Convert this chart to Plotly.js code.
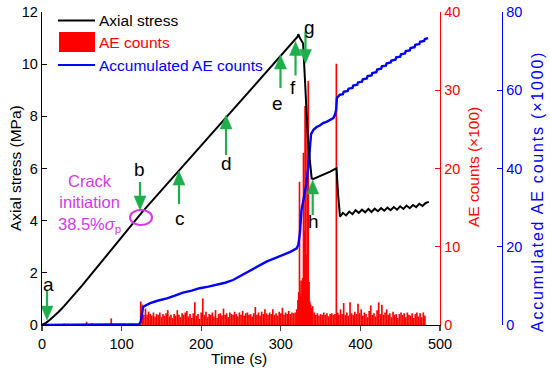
<!DOCTYPE html>
<html>
<head>
<meta charset="utf-8">
<script src="https://cdn.plot.ly/plotly-3.0.1.min.js"></script>
<style>html,body{margin:0;padding:0;background:#fff;}#chart{width:550px;height:368px;}</style>
</head>
<body>
<div id="chart"></div>
<script>
// ---- Data ----
// Axial stress (MPa) vs time (s)
const stressTime = [0,5,10,15,20,25,30,40,50,60,70,80,90,100,110,120,125,150,175,200,225,250,275,300,315,321,322,324,328,330,331.6,334,336.7,338.8,341,345,349,353,358,362,366,370,372,374.4,378,382,386,390,394,398,402,406,410,414,418,422,426,430,434,438,442,446,450,454,458,462,466,470,474,478,482,486];
const stress = [0,0.08,0.2,0.33,0.48,0.63,0.8,1.15,1.5,1.87,2.25,2.63,3.0,3.38,3.75,4.12,4.3,5.16,6.02,6.88,7.74,8.6,9.46,10.32,10.84,11.05,11.15,11.0,10.8,9.6,8.24,7.2,6.26,5.62,5.6,5.65,5.69,5.75,5.8,5.88,5.95,6.01,5.0,4.15,4.3,4.2,4.35,4.25,4.4,4.3,4.42,4.32,4.45,4.33,4.46,4.36,4.48,4.38,4.5,4.4,4.52,4.42,4.55,4.45,4.58,4.48,4.6,4.52,4.65,4.56,4.68,4.72];

// AE counts (x100) vs time (s)
const aeTime = [28,33,56,63,87,103,113,118,124,126,128,130,132,134,136,138,140,142,144,146,148,150,152,154,156,158,160,162,164,166,168,170,172,174,176,178,180,182,184,186,188,190,192,194,196,198,200,202,204,206,208,210,212,214,216,218,220,222,224,226,228,230,232,234,236,238,240,242,244,246,248,250,252,254,256,258,260,262,264,266,268,270,272,274,276,278,280,282,284,286,288,290,292,294,296,298,300,302,304,306,308,310,312,314,316,318,320,321.5,322.5,323.5,324.5,325.5,326.5,327.5,328.5,329.5,330.5,331.5,332.5,333.5,334.5,335.5,336.5,337.5,338.5,340,342,344,346,348,350,352,354,356,358,360,362,364,366,368,369.8,371.5,373,375,377,379,381,383,385,387,389,391,393,395,397,399,401,403,405,407,409,411,413,415,417,419,421,423,425,427,429,431,433,435,437,439,441,443,445,447,449,451,453,455,457,459,461,463,465,467,469,471,473,475,477,479,481];
const aeCounts = [0.2,0.15,0.4,0.25,0.85,0.15,0.2,0.1,
  3.0,2.6,1.3,2.1,1.3,1.7,1.4,1.2,1.6,1.1,1.4,1.3,1.6,1.0,1.4,1.2,1.5,1.9,1.1,1.3,0.9,1.4,1.2,1.9,1.3,1.0,1.5,1.3,1.6,1.8,1.1,1.4,0.9,1.5,2.9,1.2,1.4,0.8,1.6,3.4,1.3,1.7,1.0,1.4,1.3,1.6,1.1,1.9,0.9,1.4,1.5,1.2,2.1,1.3,1.5,1.0,1.6,1.4,1.3,1.7,1.4,1.1,1.6,1.3,1.8,1.2,1.5,1.6,1.3,1.4,1.1,1.5,2.3,1.3,1.6,1.2,1.7,1.4,2.0,1.5,1.3,1.6,1.4,2.0,1.3,1.5,1.2,1.7,1.5,2.2,1.3,1.6,1.4,1.8,1.4,1.6,1.5,1.6,2.0,
  3.2,4.2,18.3,4.0,5.7,3.5,6.0,22.0,12.0,28.0,27.0,9.0,25.0,31.2,5.5,3.0,2.6,2.2,
  2.4,1.6,1.3,1.5,1.2,1.4,1.3,1.6,1.3,1.5,1.1,1.4,1.5,1.3,1.4,33.4,1.6,1.3,2.0,1.4,2.8,1.3,1.6,1.2,2.9,1.5,1.3,1.7,1.4,2.7,1.5,2.0,1.2,1.6,1.4,1.0,1.8,2.5,1.3,1.5,1.1,1.9,2.9,1.4,2.6,1.3,1.6,2.0,1.3,1.5,1.0,1.7,1.3,1.4,0.9,1.4,1.6,1.3,1.5,1.0,1.6,1.3,1.2,1.5,0.9,1.4,1.6,1.1,1.5,1.0,1.6,1.2];

// Accumulated AE counts (x1000) vs time (s)
const accTime = [0,60,100,122,124,125.5,127,130,136,145,157,167,177,188,198,209,219,230,240,250,261,272,282,292,303,312,320,322,324,326,328,330,332,334.6,336.7,338,341,345,349,353,358,362,366,368,369.5,370.5,374,378,379,384,385,390,391,396,397,402,403,408,409,414,415,420,421,426,427,432,433,438,439,444,445,450,451,456,457,462,463,468,469,474,475,480,481,485];
const accCounts = [0,0.05,0.1,0.2,0.8,3.5,4.6,5.0,5.6,6.2,6.8,7.5,8.3,8.8,9.4,9.8,10.2,10.8,11.5,12.6,14.0,15.2,16.2,17.0,17.9,18.7,19.6,20.5,23.5,29.4,31.5,33.7,36.0,40.5,47.3,48.8,49.9,50.6,51.0,51.6,52.0,52.4,52.9,53.7,55.0,58.0,58.8,59.0,59.6,59.8,60.4,60.6,61.2,61.4,62.0,62.2,62.8,63.0,63.6,63.8,64.4,64.6,65.3,65.5,66.1,66.3,66.9,67.1,67.6,67.8,68.4,68.6,69.2,69.4,70.0,70.2,70.8,71.0,71.6,71.8,72.4,72.6,73.1,73.3];

// Axis ticks
const timeTicks = [0,100,200,300,400,500];
const stressTicks = [0,2,4,6,8,10,12];
const aeTicks = [0,10,20,30,40];
const accTicks = [0,20,40,60,80];

// Annotated stages: label, time (s) and stress (MPa) at the arrow tip
const stageLabels = ['a','b','c','d','e','f','g','h'];
const stageTime   = [6.3,123.1,172.1,231.2,299.6,318.5,331.0,340.1];
const stageStress = [0.19,4.41,5.90,8.05,10.35,10.87,10.03,5.56];
// arrow length in px (positive: arrow points down, tail above)
const arrowLen    = [29,28,-33,-40,-33,-34,32,-35];
// label offset from tip in px (screen, positive = down)
const labelOffset = [-36,-40,47,48,48,46,-36,42];
const labelDx     = [1,0,1,0,-3,-3,4,1];

const FONT = 'Liberation Sans, Arial, sans-serif';
const GREEN = '#1fae4c';
const MAGENTA = '#d23ae6';

const traces = [
  {type:'bar', x: aeTime, y: aeCounts, width: 2.1, marker:{color:'#ff0000', line:{width:0}}, xaxis:'x', yaxis:'y', showlegend:false, hoverinfo:'skip'},
  {type:'scatter', mode:'lines', x: accTime, y: accCounts, line:{color:'#0000ff', width:2.4}, xaxis:'x', yaxis:'y2', showlegend:false, cliponaxis:false},
  {type:'scatter', mode:'lines', x: stressTime, y: stress, line:{color:'#000000', width:2}, xaxis:'x', yaxis:'y3', showlegend:false, cliponaxis:false}
];

const annotations = [];
const shapes = [];
for (let i = 0; i < stageLabels.length; i++) {
  const s = arrowLen[i];
  const sg = Math.sign(s);
  const hb = sg * 14;
  shapes.push({type:'path', xref:'x', yref:'y3', xsizemode:'pixel', ysizemode:'pixel',
    xanchor: stageTime[i], yanchor: stageStress[i],
    path: 'M0,' + (sg*10) + ' L0,' + s, line:{color:GREEN, width:2.2}});
  shapes.push({type:'path', xref:'x', yref:'y3', xsizemode:'pixel', ysizemode:'pixel',
    xanchor: stageTime[i], yanchor: stageStress[i],
    path: 'M0,0 L-6,' + hb + ' L6,' + hb + ' Z', fillcolor:GREEN, line:{color:GREEN, width:0.5}});
  annotations.push({xref:'x', yref:'y3', x: stageTime[i], y: stageStress[i], text: stageLabels[i], showarrow:false,
    xanchor:'center', yanchor:'middle',
    xshift: labelDx[i], yshift: -labelOffset[i], font:{family:FONT, size:19, color:'#000'}});
}
annotations.push({xref:'paper', yref:'paper', x:(89-42)/460, y:(325-203)/313, xanchor:'center', yanchor:'middle',
  text:'Crack<br>initiation<br>38.5%<i>σ</i><sub>p</sub>',
  showarrow:false, font:{family:FONT, size:16.5, color:MAGENTA}, align:'center'});
shapes.push({type:'circle', xref:'x', yref:'y3', x0:110.6, x1:138.2, y0:3.83, y1:4.41, line:{color:MAGENTA, width:2}});

// Axis titles
annotations.push({xref:'paper', yref:'paper', x:(238.5-42)/460, y:(325-358)/313, xanchor:'center', yanchor:'middle', text:'Time (s)', showarrow:false, font:{family:FONT,size:15.5,color:'#000'}});
annotations.push({xref:'paper', yref:'paper', x:(15-42)/460, y:(325-168)/313, xanchor:'center', yanchor:'middle', text:'Axial stress (MPa)', textangle:-90, showarrow:false, font:{family:FONT,size:15.5,color:'#000'}});
annotations.push({xref:'paper', yref:'paper', x:(473-42)/460, y:(325-167)/313, xanchor:'center', yanchor:'middle', text:'AE counts (×100)', textangle:-90, showarrow:false, font:{family:FONT,size:15.5,color:'#ff0000'}});
annotations.push({xref:'paper', yref:'paper', x:(538-42)/460, y:(325-192)/313, xanchor:'center', yanchor:'middle',
  text:'<span style="letter-spacing:1.8px">Accumulated AE counts (×1000)</span>', textangle:-90, showarrow:false, font:{family:FONT,size:16,color:'#0000ff'}});

// Custom legend
const px = v => (v-42)/460, py = v => (325-v)/313;
shapes.push({type:'line', xref:'paper', yref:'paper', x0:px(58), x1:px(95), y0:py(20.5), y1:py(20.5), line:{color:'#000', width:2}});
shapes.push({type:'rect', xref:'paper', yref:'paper', x0:px(59), x1:px(95), y0:py(52), y1:py(32), fillcolor:'#ff0000', line:{width:0}});
shapes.push({type:'line', xref:'paper', yref:'paper', x0:px(58), x1:px(95), y0:py(65), y1:py(65), line:{color:'#0000ff', width:2}});
const legendNames = ['Axial stress','AE counts','Accumulated AE counts'];
const legendColors = ['#000000','#ff0000','#0000ff'];
const legendY = [20.5,42.5,65];
for (let i = 0; i < 3; i++) {
  annotations.push({xref:'paper', yref:'paper', x:px(97), y:py(legendY[i]), xanchor:'left', yanchor:'middle', text: legendNames[i], showarrow:false, font:{family:FONT,size:15.5,color:legendColors[i]}});
}

const layout = {
  width:550, height:368,
  margin:{l:42, r:48, t:12, b:43, pad:0},
  paper_bgcolor:'#fff', plot_bgcolor:'rgba(0,0,0,0)',
  font:{family:FONT, size:14.5, color:'#000'},
  showlegend:false,
  xaxis:{domain:[0, 398/460], range:[0,500], tickvals: timeTicks, ticks:'outside', ticklen:5, tickwidth:1.3,
    showline:true, linecolor:'#000', linewidth:1.3, showgrid:false, zeroline:false, anchor:'y',
    tickfont:{family:FONT,size:14.5,color:'#000'}},
  yaxis:{range:[0,40], tickvals: aeTicks, side:'right', anchor:'x', ticks:'inside', ticklen:5, tickwidth:1.3, tickcolor:'#ff0000',
    showline:true, linecolor:'#ff0000', linewidth:1.3, showgrid:false, zeroline:false,
    tickfont:{family:FONT,size:14.5,color:'#ff0000'}},
  yaxis2:{range:[0,80], tickvals: accTicks, side:'right', overlaying:'y', anchor:'free', position:1, ticks:'inside', ticklen:5, tickwidth:1.3, tickcolor:'#0000ff',
    showline:true, linecolor:'#0000ff', linewidth:1.3, showgrid:false, zeroline:false,
    tickfont:{family:FONT,size:14.5,color:'#0000ff'}},
  yaxis3:{range:[0,12], tickvals: stressTicks, side:'left', overlaying:'y', anchor:'x', ticks:'inside', ticklen:5, tickwidth:1.3, tickcolor:'#000',
    showline:true, linecolor:'#000', linewidth:1.3, showgrid:false, zeroline:false,
    tickfont:{family:FONT,size:14.5,color:'#000'}},
  annotations: annotations,
  shapes: shapes
};

Plotly.newPlot('chart', traces, layout, {staticPlot:true, displayModeBar:false});
</script>
</body>
</html>
